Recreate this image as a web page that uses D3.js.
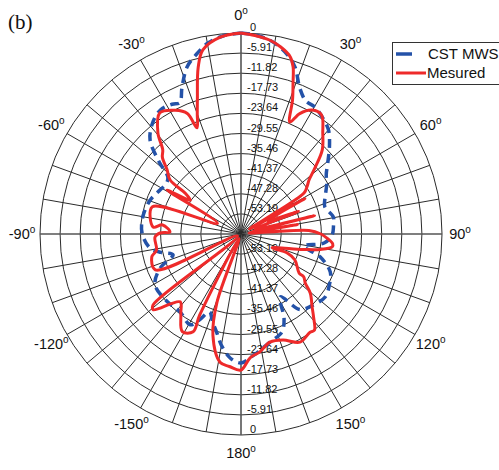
<!DOCTYPE html>
<html>
<head>
<meta charset="utf-8">
<script src="https://cdn.jsdelivr.net/npm/d3@7"></script>
<style>
  html, body { margin: 0; padding: 0; background: #fff; }
  svg { display: block; }
</style>
</head>
<body>
<svg id="chart" width="499" height="470"></svg>
<script>
// ---- data (angle in degrees, clockwise from top; level in dB) ----
const radialTicks = [0, -5.91, -11.82, -17.73, -23.64, -29.55, -35.46, -41.37, -47.28, -53.19];
const radialTickLabels = ["0", "-5.91", "-11.82", "-17.73", "-23.64", "-29.55", "-35.46", "-41.37", "-47.28", "-53.19"];
const angleTicks = [0, 30, 60, 90, 120, 150, 180, 210, 240, 270, 300, 330];
const angleTickLabels = ["0", "30", "60", "90", "120", "150", "180", "-150", "-120", "-90", "-60", "-30"];
const seriesNames = ["CST MWS", "Mesured"];

const cstAngles = [0, 5, 10, 15, 18, 22, 26, 30, 35, 40, 45, 50.8, 55, 60, 66, 72, 79.6, 85, 90.6, 96, 101, 106, 113, 120, 127, 135, 142, 148, 153, 157.3, 165, 174, 180,
  -175, -170, -166, -162, -158, -154, -150.7, -142, -132.6, -120.7, -113, -107, -103, -98.7, -89.4, -80, -69.5, -61.5, -56, -52, -48.8, -44, -38.4, -33, -28, -25, -21.9, -17.9, -14, -9.8, -5, 0];
const cstValues = [0, -0.6, -2.1, -5.0, -7.6, -12.9, -15.6, -15.9, -17.3, -19.1, -22.3, -26.2, -28.5, -30.0, -32.0, -33.2, -31.5, -31.8, -32.3, -34.4, -40.3, -35.0, -30.6, -29.1, -28.2, -29.4, -30.9, -37.3, -31.2, -27.9, -26.2, -23.3, -21.2,
  -22.5, -25.9, -29.4, -32.0, -34.4, -30.9, -28.5, -30.0, -29.7, -29.7, -33.2, -38.2, -35.0, -32.0, -30.0, -29.8, -30.6, -32.0, -32.6, -31.8, -27.3, -20.6, -17.3, -15.6, -15.9, -16.5, -12.6, -7.5, -4.7, -2.1, -0.6, 0];

const measAngles = [0, 4, 8.5, 12, 15.5, 17.3, 19, 21, 23.6, 26, 29.8, 34, 39, 44, 48, 51.5, 54.5, 57, 59, 61, 64, 68.5, 71, 76, 78, 80.5, 83, 87, 90, 92.7, 96, 98, 101, 104, 114, 112.4, 115.7, 123.9, 124.3, 127.4, 130.5, 135.8, 138.7, 142.7, 144.9, 151.4, 158.4, 165, 170.9, 175.8, 180,
  -175, -170.7, -164.5, -160.6, -157.5, -153, -153.9, -149, -143, -138.1, -130.8, -128.9, -120, -112.7, -104.5, -100.8, -92, -89.3, -88.4, -83.4, -85.5, -73, -65.5, -59.3, -56.3, -53.8, -52.7, -49, -45.7, -42.9, -39.4, -33.8, -28, -24, -22.5, -20, -18, -14.4, -11.7, -6, 0];
const measValues = [0, -0.6, -1.5, -2.9, -5.0, -7.6, -12.1, -16.8, -23.2, -19.7, -17.1, -16.8, -20.9, -24.7, -29.7, -33.5, -35.3, -37.0, -56.2, -37.6, -50.3, -40.9, -54.7, -36.8, -55.6, -42.3, -56.7, -39.1, -35.6, -33.8, -32.0, -32.0, -35.3, -40.3, -49.1, -44.4, -41.5, -38.5, -36.8, -35.3, -32.3, -29.1, -26.8, -23.5, -23.8, -22.9, -25.6, -26.2, -24.0, -22.6, -19.1,
  -20.0, -20.9, -28.2, -37.9, -57.6, -32.3, -27.1, -25.6, -29.7, -32.3, -25.0, -25.9, -57.9, -31.8, -32.0, -33.8, -33.8, -35.3, -38.2, -35.9, -33.2, -31.8, -51.5, -33.8, -41.2, -38.8, -32.9, -30.3, -26.8, -25.3, -20.6, -16.2, -17.9, -20.3, -25.3, -21.5, -17.6, -8.5, -3.8, -0.9, 0];

// ---- layout ----
const cx = 241, cy = 234, R = 201;
const svg = d3.select("#chart");
const g = svg.append("g").attr("transform", `translate(${cx},${cy})`);
const r = d3.scaleLinear().domain([-59.1, 0]).range([0, R]);
const rad = a => a * Math.PI / 180;

// rings
g.selectAll("circle.ring").data(radialTicks).enter().append("circle")
  .attr("r", d => r(d)).attr("fill", "none").attr("stroke", "#2b2b2b").attr("stroke-width", 1);

// spokes every 10 degrees
const spokes = d3.range(0, 360, 10);
g.selectAll("line.spoke").data(spokes).enter().append("line")
  .attr("x1", 0).attr("y1", 0)
  .attr("x2", d => R * Math.sin(rad(d))).attr("y2", d => -R * Math.cos(rad(d)))
  .attr("stroke", d => d % 90 === 0 ? "#555" : "#2b2b2b")
  .attr("stroke-width", d => d % 90 === 0 ? 1.6 : 1);

// radial tick labels (top and bottom)
[-1, 1].forEach(side => {
  g.selectAll(null).data(radialTicks).enter().append("text")
    .attr("x", (d, i) => i === 0 ? 9 : 6)
    .attr("y", d => side * r(d) - 2)
    .attr("font-family", "Liberation Sans, Arial, sans-serif")
    .attr("font-size", 11).attr("fill", "#111")
    .text((d, i) => radialTickLabels[i]);
});

// angle labels
const al = g.selectAll("text.ang").data(angleTicks).enter().append("text")
  .attr("x", d => 219 * Math.sin(rad(d)))
  .attr("y", d => -219 * Math.cos(rad(d)) + 5)
  .attr("text-anchor", "middle")
  .attr("font-family", "Liberation Sans, Arial, sans-serif")
  .attr("font-size", 14.5).attr("fill", "#111");
al.append("tspan").text((d, i) => angleTickLabels[i]);
al.append("tspan").attr("font-size", 10).attr("dy", -6).text("o");

// series
const toPts = (as, vs) => as.map((a, i) => ({ a: a, v: vs[i] }));
const line = d3.lineRadial().angle(d => rad(d.a)).radius(d => r(d.v)).curve(d3.curveCatmullRom.alpha(0.5));

g.append("path").datum(toPts(cstAngles, cstValues))
  .attr("d", line).attr("fill", "none").attr("stroke", "#2452a8")
  .attr("stroke-width", 3.5).attr("stroke-dasharray", "9,6");

g.append("path").datum(toPts(measAngles, measValues))
  .attr("d", line).attr("fill", "none").attr("stroke", "#ee2a2a")
  .attr("stroke-width", 3).attr("stroke-linejoin", "round");

// panel label
svg.append("text").attr("x", 8).attr("y", 29)
  .attr("font-family", "Liberation Serif, Times New Roman, serif")
  .attr("font-size", 21).attr("fill", "#111").text("(b)");

// legend
const lg = svg.append("g");
lg.append("rect").attr("x", 392.5).attr("y", 42.5).attr("width", 120).attr("height", 42)
  .attr("fill", "#fff").attr("stroke", "#333").attr("stroke-width", 1);
lg.append("line").attr("x1", 396).attr("x2", 412).attr("y1", 54).attr("y2", 54)
  .attr("stroke", "#2452a8").attr("stroke-width", 3.5);
lg.append("line").attr("x1", 396).attr("x2", 426).attr("y1", 73).attr("y2", 73)
  .attr("stroke", "#ee2a2a").attr("stroke-width", 3);
lg.append("text").attr("x", 428).attr("y", 59).attr("font-family", "Liberation Sans, Arial, sans-serif")
  .attr("font-size", 15).attr("fill", "#111").text(seriesNames[0]);
lg.append("text").attr("x", 427).attr("y", 78).attr("font-family", "Liberation Sans, Arial, sans-serif")
  .attr("font-size", 15).attr("fill", "#111").text(seriesNames[1]);
</script>
</body>
</html>
